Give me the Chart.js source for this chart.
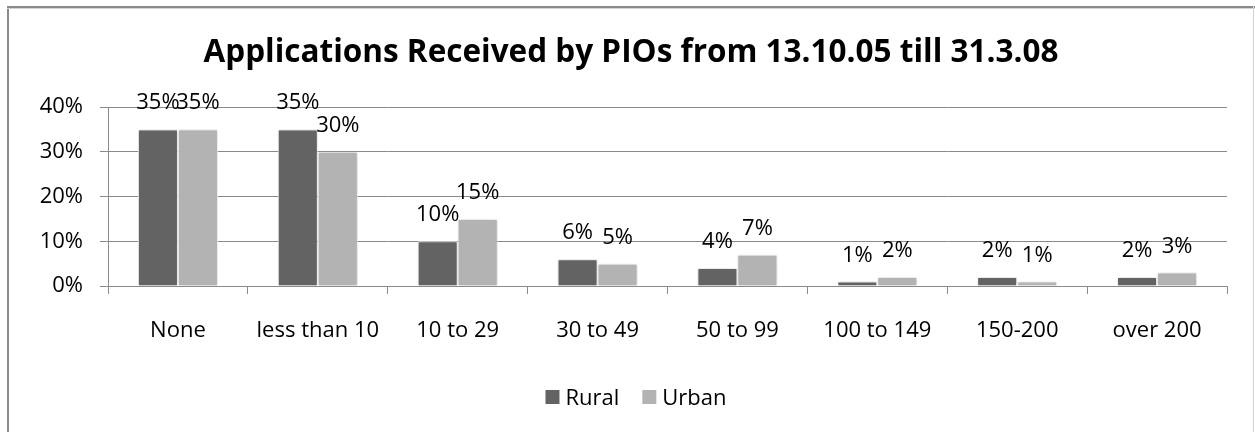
<!DOCTYPE html>
<html>
<head>
<meta charset="utf-8">
<script src="https://cdn.jsdelivr.net/npm/chart.js@4.4.1/dist/chart.umd.min.js"></script>
<style>
  html, body { margin: 0; padding: 0; background: #ffffff; }
  #wrap { position: absolute; left: 0; top: 0; width: 1255px; height: 432px; }
</style>
</head>
<body>
<div id="wrap"><canvas id="c" width="1255" height="432"></canvas></div>
<script>
const titleText = 'Applications Received by PIOs from 13.10.05 till 31.3.08';
const categories = ['None', 'less than 10', '10 to 29', '30 to 49', '50 to 99', '100 to 149', '150-200', 'over 200'];
const seriesNames = ['Rural', 'Urban'];
const ruralValues = [35, 35, 10, 6, 4, 1, 2, 2];
const urbanValues = [35, 30, 15, 5, 7, 2, 1, 3];
const yTicks = [0, 10, 20, 30, 40];

const FONT = '"Open Sans", "Noto Sans", sans-serif';
const colors = ['#636363', '#b3b3b3'];

const framePlugin = {
  id: 'frame',
  beforeDraw(chart) {
    const ctx = chart.ctx;
    ctx.save();
    ctx.fillStyle = '#ffffff';
    ctx.fillRect(0, 0, chart.width, chart.height);
    ctx.fillStyle = '#8a8a8a';
    ctx.fillRect(7, 6, 1248, 2);
    ctx.fillRect(7, 6, 2, 432);
    ctx.fillStyle = '#d4d4d4';
    ctx.fillRect(7, 8, 1248, 1);
    ctx.fillRect(1253, 6, 1, 432);
    ctx.restore();
  },
  afterDraw(chart) {
    const ctx = chart.ctx;
    ctx.save();
    // title
    ctx.fillStyle = '#000000';
    ctx.font = 'bold 31.5px ' + FONT;
    ctx.textAlign = 'center';
    ctx.textBaseline = 'alphabetic';
    ctx.fillText(titleText, 631, 62);
    // legend
    ctx.font = '22px ' + FONT;
    ctx.textAlign = 'left';
    const items = chart.data.datasets.map((d, i) => ({ label: d.label, color: colors[i] }));
    const box = 14, gapBox = 6, gapItem = 23;
    let total = 0;
    items.forEach((it, i) => {
      it.w = ctx.measureText(it.label).width;
      total += box + gapBox + it.w + (i < items.length - 1 ? gapItem : 0);
    });
    let x = 636 - total / 2;
    const cy = 397;
    items.forEach(it => {
      ctx.fillStyle = it.color;
      ctx.fillRect(x, cy - box / 2, box, box);
      x += box + gapBox;
      ctx.fillStyle = '#000000';
      ctx.fillText(it.label, x, cy + 8);
      x += it.w + gapItem;
    });
    ctx.restore();
  }
};

const labelPlugin = {
  id: 'valueLabels',
  afterDatasetsDraw(chart) {
    const ctx = chart.ctx;
    ctx.save();
    ctx.font = '22px ' + FONT;
    ctx.fillStyle = '#000000';
    ctx.textAlign = 'center';
    ctx.textBaseline = 'alphabetic';
    chart.data.datasets.forEach((ds, di) => {
      const meta = chart.getDatasetMeta(di);
      meta.data.forEach((bar, i) => {
        ctx.fillText(Math.round(ds.data[i]) + '%', bar.x, bar.y - 20);
      });
    });
    ctx.restore();
  }
};

const shadowPlugin = {
  id: 'barShadow',
  beforeDatasetsDraw(chart) {
    const ctx = chart.ctx;
    ctx.save();
    ctx.shadowColor = 'rgba(0,0,0,0.22)';
    ctx.shadowBlur = 4;
    ctx.shadowOffsetX = 0;
    ctx.shadowOffsetY = 0;
  },
  afterDatasetsDraw(chart) {
    chart.ctx.restore();
  }
};

new Chart(document.getElementById('c'), {
  type: 'bar',
  data: {
    labels: categories,
    datasets: [
      { label: seriesNames[0], data: ruralValues, backgroundColor: colors[0], borderColor: '#ffffff', borderWidth: 1 },
      { label: seriesNames[1], data: urbanValues, backgroundColor: colors[1], borderColor: '#ffffff', borderWidth: 1 }
    ]
  },
  options: {
    responsive: false,
    devicePixelRatio: 1,
    animation: false,
    layout: { padding: { left: 0, top: 107, right: 28, bottom: 0 } },
    plugins: { legend: { display: false }, title: { display: false }, tooltip: { enabled: false } },
    datasets: { bar: { categoryPercentage: 0.572, barPercentage: 1.0 } },
    scales: {
      x: {
        afterFit(scale) { scale.height = 146; },
        grid: { offset: true, drawOnChartArea: false, drawTicks: true, tickLength: 8, color: '#8a8a8a', lineWidth: 1 },
        border: { display: true, color: '#8a8a8a', width: 1 },
        ticks: { color: '#000000', font: { family: FONT, size: 22 }, padding: 24, maxRotation: 0, autoSkip: false }
      },
      y: {
        min: 0, max: 40,
        afterFit(scale) { scale.width = 108; },
        afterBuildTicks(scale) { scale.ticks = yTicks.map(v => ({ value: v })); },
        grid: { drawTicks: true, tickLength: 8, color: '#8a8a8a', lineWidth: 1 },
        border: { display: true, color: '#8a8a8a', width: 1 },
        ticks: { color: '#000000', font: { family: FONT, size: 22 }, padding: 17, callback: v => v + '%' }
      }
    }
  },
  plugins: [framePlugin, shadowPlugin, labelPlugin]
});
</script>
</body>
</html>
